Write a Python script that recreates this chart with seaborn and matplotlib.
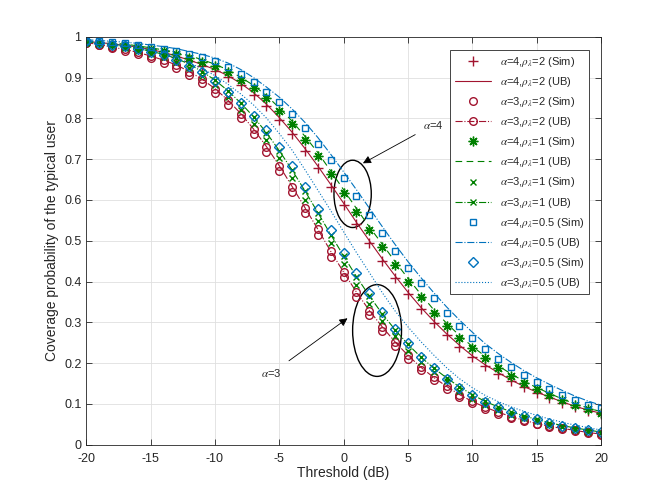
import numpy as np
import pandas as pd
import matplotlib
matplotlib.use("Agg")
import matplotlib.pyplot as plt
from matplotlib.patches import Ellipse
import seaborn as sns

# threshold grid (dB)
thr_db = list(range(-20, 21))

# simulated coverage probability
sim_a4_r2 = [.988, .985, .982, .978, .973, .967, .959, .950, .940, .929, .916, .901, .882, .858, .830, .797, .761, .721, .678, .633, .587,
             .540, .495, .451, .409, .370, .333, .299, .268, .240, .215, .193, .174, .157, .141, .127, .115, .103, .093, .083, .075]
sim_a3_r2 = [.985, .979, .973, .966, .958, .948, .937, .924, .907, .887, .863, .834, .800, .761, .718, .670, .619, .567, .514, .461, .410,
             .362, .318, .279, .243, .211, .183, .158, .137, .118, .102, .088, .076, .066, .057, .050, .043, .038, .033, .029, .025]
sim_a4_r1 = [.988, .986, .983, .979, .975, .970, .965, .958, .949, .939, .928, .913, .895, .875, .849, .819, .786, .748, .708, .663, .616,
             .571, .526, .484, .441, .400, .362, .324, .291, .262, .236, .212, .189, .169, .152, .136, .122, .109, .097, .087, .078]
sim_a3_r1 = [.986, .982, .977, .972, .966, .959, .950, .939, .923, .903, .881, .853, .821, .787, .747, .702, .653, .601, .549, .495, .443,
             .392, .346, .303, .266, .230, .202, .178, .155, .132, .113, .097, .085, .074, .065, .057, .049, .044, .037, .032, .028]
sim_a4_r05 = [.991, .989, .987, .984, .981, .976, .971, .965, .958, .950, .940, .927, .910, .889, .866, .840, .810, .776, .738, .697, .654,
              .610, .564, .520, .476, .434, .396, .359, .324, .292, .262, .234, .211, .190, .171, .154, .137, .123, .110, .098, .089]
sim_a3_r05 = [.989, .985, .981, .977, .971, .964, .955, .943, .929, .913, .892, .866, .838, .807, .771, .729, .683, .631, .579, .526, .471,
              .420, .372, .325, .284, .249, .216, .188, .161, .139, .121, .105, .092, .081, .071, .062, .054, .047, .041, .036, .030]

# upper bounds
ub_a4_r2 = [.989, .986, .983, .979, .975, .969, .962, .953, .943, .932, .920, .905, .886, .863, .835, .802, .766, .726, .683, .638, .592,
            .545, .500, .456, .414, .374, .337, .303, .272, .244, .218, .196, .177, .159, .143, .129, .117, .105, .094, .085, .077]
ub_a3_r2 = [.986, .981, .975, .969, .962, .953, .943, .931, .915, .896, .873, .845, .812, .774, .731, .684, .633, .581, .528, .474, .423,
            .374, .329, .289, .252, .219, .190, .165, .143, .123, .106, .092, .080, .069, .060, .052, .045, .040, .035, .030, .026]
ub_a4_r1 = [.990, .988, .985, .982, .978, .973, .968, .962, .954, .944, .933, .919, .901, .881, .856, .826, .793, .756, .716, .671, .625,
            .579, .534, .492, .449, .408, .369, .331, .298, .268, .241, .217, .194, .174, .156, .140, .126, .112, .100, .090, .081]
ub_a3_r1 = [.988, .985, .981, .976, .971, .965, .957, .947, .933, .915, .894, .868, .838, .804, .765, .721, .673, .622, .569, .515, .463,
            .412, .365, .321, .282, .246, .215, .188, .164, .142, .123, .106, .093, .081, .071, .062, .054, .047, .041, .036, .031]
ub_a4_r05 = [.993, .991, .989, .987, .984, .980, .976, .971, .964, .957, .948, .936, .920, .900, .877, .852, .823, .790, .753, .712, .669,
             .625, .580, .535, .491, .449, .410, .373, .338, .306, .276, .248, .224, .202, .182, .164, .148, .133, .119, .107, .097]
ub_a3_r05 = [.990, .987, .983, .979, .974, .967, .959, .948, .936, .922, .905, .884, .860, .833, .801, .763, .722, .674, .624, .574, .522,
             .471, .422, .373, .328, .289, .253, .220, .189, .162, .140, .121, .106, .093, .082, .072, .063, .055, .048, .042, .036]

red = "#A2142F"
green = "#008000"
blue = "#0072BD"
asterisk = (8, 2, 0)

# (label, values, color, linestyle, marker, markersize)
series = [
    (r"$\alpha$=4,$\rho_\lambda$=2 (Sim)", sim_a4_r2, red, "", "+", 7),
    (r"$\alpha$=4,$\rho_\lambda$=2 (UB)", ub_a4_r2, red, "-", None, 6),
    (r"$\alpha$=3,$\rho_\lambda$=2 (Sim)", sim_a3_r2, red, "", "o", 5.5),
    (r"$\alpha$=3,$\rho_\lambda$=2 (UB)", ub_a3_r2, red, "-.", "o", 5.5),
    (r"$\alpha$=4,$\rho_\lambda$=1 (Sim)", sim_a4_r1, green, "", asterisk, 7),
    (r"$\alpha$=4,$\rho_\lambda$=1 (UB)", ub_a4_r1, green, (0, (6, 4)), None, 6),
    (r"$\alpha$=3,$\rho_\lambda$=1 (Sim)", sim_a3_r1, green, "", "x", 5),
    (r"$\alpha$=3,$\rho_\lambda$=1 (UB)", ub_a3_r1, green, "-.", "x", 5),
    (r"$\alpha$=4,$\rho_\lambda$=0.5 (Sim)", sim_a4_r05, blue, "", "s", 5),
    (r"$\alpha$=4,$\rho_\lambda$=0.5 (UB)", ub_a4_r05, blue, "-.", None, 6),
    (r"$\alpha$=3,$\rho_\lambda$=0.5 (Sim)", sim_a3_r05, blue, "", "D", 5),
    (r"$\alpha$=3,$\rho_\lambda$=0.5 (UB)", ub_a3_r05, blue, ":", None, 6),
]

sns.set_style("ticks")
plt.rcParams["font.family"] = ["Liberation Sans", "DejaVu Sans"]
plt.rcParams["mathtext.fontset"] = "stix"
plt.rcParams["axes.unicode_minus"] = False

fig = plt.figure(figsize=(6.64, 4.98), dpi=100)
ax = fig.add_axes([0.13, 0.107, 0.775, 0.819])

for label, vals, color, ls, mk, ms in series:
    df = pd.DataFrame({"thr": thr_db, "pc": vals})
    sns.lineplot(data=df, x="thr", y="pc", ax=ax, color=color,
                 linestyle=ls if ls else "None", linewidth=0.8,
                 marker=mk, markersize=ms, markerfacecolor="none",
                 markeredgecolor=color, markeredgewidth=1.0, label=label)

# annotations
ax.add_patch(Ellipse((0.7, 0.615), 2.9, 0.165, fill=False, edgecolor="black", linewidth=1.0))
ax.add_patch(Ellipse((2.6, 0.28), 3.8, 0.225, fill=False, edgecolor="black", linewidth=1.0))
ax.annotate(r"$\alpha$=4", xy=(1.5, 0.69), xytext=(6.2, 0.785), fontsize=8,
            ha="left", va="center",
            arrowprops=dict(arrowstyle="-|>", color="black", lw=0.6, mutation_scale=12,
                            shrinkA=4, shrinkB=0))
ax.annotate(r"$\alpha$=3", xy=(0.3, 0.31), xytext=(-4.8, 0.175), fontsize=8,
            ha="right", va="center",
            arrowprops=dict(arrowstyle="-|>", color="black", lw=0.6, mutation_scale=12,
                            shrinkA=4, shrinkB=0))

ax.set_xlim(-20, 20)
ax.set_ylim(0, 1)
ax.set_xticks(range(-20, 21, 5))
ax.set_yticks(np.arange(0, 1.01, 0.1))
ax.set_yticklabels(["0", "0.1", "0.2", "0.3", "0.4", "0.5", "0.6", "0.7", "0.8", "0.9", "1"])
ax.grid(True, color="#dfdfdf", linewidth=0.6)
ax.tick_params(direction="in", top=True, right=True, labelsize=9, length=4, width=0.6, colors="#262626")
ax.tick_params(axis="x", pad=6)
for sp in ax.spines.values():
    sp.set_visible(True)
    sp.set_linewidth(0.6)
    sp.set_color("#262626")
ax.set_xlabel("Threshold (dB)", fontsize=10, labelpad=1)
ax.set_ylabel("Coverage probability of the typical user", fontsize=10, labelpad=4)

leg = ax.legend(loc="upper right", bbox_to_anchor=(0.977, 0.967), borderaxespad=0,
                fontsize=8, handlelength=3.3, labelspacing=0.55, frameon=True,
                fancybox=False, edgecolor="#262626", framealpha=1)
leg.get_frame().set_linewidth(0.6)

fig.savefig("out.png", dpi=100)
